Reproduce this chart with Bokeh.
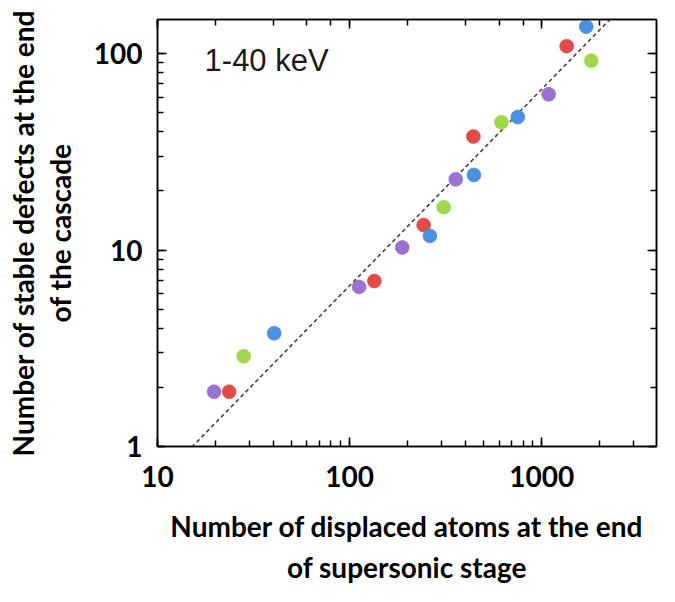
from bokeh.plotting import figure
from bokeh.models import LogAxis, LogTicker, CustomJSTickFormatter, Label, Range1d
from bokeh.embed import file_html
from bokeh.resources import INLINE

# Data (x: displaced atoms, y: stable defects)
blue_x = [40.5, 262, 444, 751, 1706]
blue_y = [3.77, 11.8, 24.1, 47.5, 137]
red_x = [23.6, 134.6, 243, 441, 1349]
red_y = [1.90, 6.95, 13.4, 37.8, 109]
green_x = [28.1, 309, 617, 1811]
green_y = [2.88, 16.5, 44.7, 92]
purple_x = [19.7, 112, 188, 357, 1087]
purple_y = [1.90, 6.49, 10.3, 22.9, 62]

# Reference dashed line: y = x / fit_div
fit_div = 15.2
fit_x = [10, 4000]
fit_y = [v / fit_div for v in fit_x]

colors = {"blue": "#4a8fe0", "red": "#e34b4b", "green": "#a2d64c", "purple": "#9b72cf"}

p = figure(width=659, height=586, x_axis_type="log", y_axis_type="log",
           x_range=Range1d(10, 3960), y_range=Range1d(1, 149),
           output_backend="svg", toolbar_location=None,
           min_border_left=157, min_border_right=3, min_border_top=19, min_border_bottom=136)

p.grid.visible = False
p.outline_line_color = "black"
p.outline_line_width = 1.5
p.background_fill_color = "white"
p.border_fill_color = "white"

p.line(fit_x, fit_y, line_color="#444444", line_width=1.6, line_dash="4 3")

for name, xs, ys in [("purple", purple_x, purple_y), ("red", red_x, red_y),
                     ("green", green_x, green_y), ("blue", blue_x, blue_y)]:
    p.scatter(xs, ys, size=14, fill_color=colors[name], line_color=colors[name],
              line_alpha=0.6, line_width=1)

font = "Lato"
plain = CustomJSTickFormatter(code="return Math.round(tick).toString();")
for ax in [p.xaxis[0], p.yaxis[0]]:
    ax.formatter = plain
    ax.major_tick_in = 9
    ax.major_tick_out = 0
    ax.minor_tick_in = 6
    ax.minor_tick_out = 0
    ax.axis_line_width = 1.5
    ax.major_tick_line_width = 1.5
    ax.minor_tick_line_width = 1.5
    ax.major_label_text_font = font
    ax.major_label_text_font_style = "bold"
    ax.major_label_text_font_size = "28px"
    ax.major_label_text_color = "black"
    ax.axis_label_text_font = font
    ax.axis_label_text_font_style = "bold"
    ax.axis_label_text_font_size = "28px"
    ax.axis_label_text_color = "black"

p.xaxis[0].axis_label = "Number of displaced atoms at the end\nof supersonic stage"
p.yaxis[0].axis_label = "Number of stable defects at the end\nof the cascade"
p.xaxis[0].major_label_standoff = 19
p.xaxis[0].axis_label_standoff = 19
p.xaxis[0].axis_label_text_line_height = 1.22
p.yaxis[0].major_label_standoff = 15
p.yaxis[0].axis_label_standoff = 14
p.yaxis[0].axis_label_text_line_height = 1.08

empty = CustomJSTickFormatter(code="return '';")
top = LogAxis(ticker=LogTicker(), formatter=empty)
right = LogAxis(ticker=LogTicker(), formatter=empty)
for ax in [top, right]:
    ax.major_tick_in = 9
    ax.major_tick_out = 0
    ax.minor_tick_in = 6
    ax.minor_tick_out = 0
    ax.axis_line_width = 1.5
    ax.major_tick_line_width = 1.5
    ax.minor_tick_line_width = 1.5
    ax.major_label_standoff = 0
p.add_layout(top, "above")
p.add_layout(right, "right")

p.add_layout(Label(x=10**1.245, y=10**1.965, text="1-40 keV", text_font="Liberation Sans",
                   text_font_size="31px", text_color="#1a1a1a", text_baseline="middle"))

open("out.html", "w").write(file_html(p, INLINE))
